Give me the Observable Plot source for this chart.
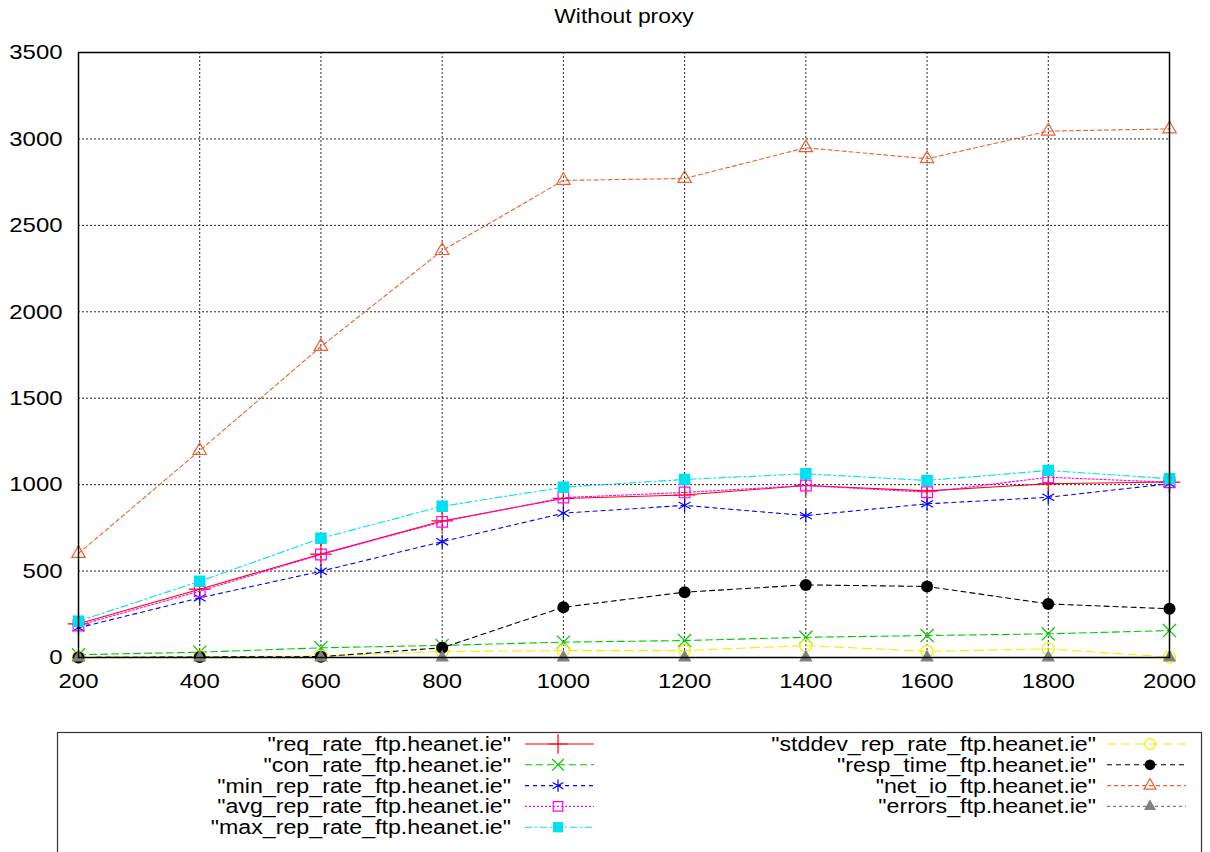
<!DOCTYPE html>
<html>
<head>
<meta charset="utf-8">
<script src="https://cdn.jsdelivr.net/npm/d3@7"></script>
<script src="https://cdn.jsdelivr.net/npm/@observablehq/plot@0.6"></script>
<style>
  html, body { margin: 0; padding: 0; background: #fff; }
  #chart { position: relative; width: 1210px; height: 852px; overflow: hidden; }
  #chart svg { display: block; }
</style>
</head>
<body>
<div id="chart"></div>
<script>
// ---- data ----
const xs = [200, 400, 600, 800, 1000, 1200, 1400, 1600, 1800, 2000];
const xTicks = [200, 400, 600, 800, 1000, 1200, 1400, 1600, 1800, 2000];
const yTicks = [0, 500, 1000, 1500, 2000, 2500, 3000, 3500];
const title = "Without proxy";

const seriesNames = [
  "\"req_rate_ftp.heanet.ie\"",
  "\"con_rate_ftp.heanet.ie\"",
  "\"min_rep_rate_ftp.heanet.ie\"",
  "\"avg_rep_rate_ftp.heanet.ie\"",
  "\"max_rep_rate_ftp.heanet.ie\"",
  "\"stddev_rep_rate_ftp.heanet.ie\"",
  "\"resp_time_ftp.heanet.ie\"",
  "\"net_io_ftp.heanet.ie\"",
  "\"errors_ftp.heanet.ie\""
];
const reqRate    = [195, 395, 598, 790, 920, 940, 995, 964, 1005, 1015];
const conRate    = [16, 31, 56, 70, 89, 98, 117, 127, 137, 156];
const minRepRate = [172, 345, 499, 670, 835, 880, 821, 889, 927, 1005];
const avgRepRate = [185, 384, 596, 785, 925, 955, 995, 956, 1043, 1014];
const maxRepRate = [210, 441, 690, 875, 985, 1030, 1063, 1024, 1082, 1034];
const stddevRepRate = [3, 5, 8, 35, 40, 40, 69, 36, 50, 2];
const respTime   = [0, 3, 5, 56, 291, 378, 420, 411, 310, 282];
const netIo      = [602, 1197, 1799, 2354, 2760, 2771, 2949, 2885, 3045, 3058];
const errors     = [0, 0, 0, 0, 0, 0, 0, 0, 0, 0];
const seriesValues = [reqRate, conRate, minRepRate, avgRepRate, maxRepRate, stddevRepRate, respTime, netIo, errors];

// ---- styles (separate from data) ----
const styles = [
  {color: "#ff0000", dash: null,      symbol: "plus",     filled: false, r: 7},
  {color: "#00c800", dash: "7,4",     symbol: "times",    filled: false, r: 6},
  {color: "#0000ff", dash: "4,4",     symbol: "asterisk", filled: false, r: 6.5},
  {color: "#ff00ff", dash: "2,2",     symbol: "square",   filled: false, r: 6},
  {color: "#00e0f0", dash: "7,3,2,3", symbol: "square",   filled: true,  r: 6.5},
  {color: "#f0f000", dash: "9,5",     symbol: "circle",   filled: false, r: 6},
  {color: "#000000", dash: "5,4",     symbol: "circle",   filled: true,  r: 6},
  {color: "#f06030", dash: "4,3",     symbol: "triangle", filled: false, r: 5},
  {color: "#808080", dash: "3,3",     symbol: "triangle", filled: true,  r: 5}
];

const data = seriesNames.flatMap((name, i) =>
  xs.map((x, j) => ({series: name, idx: i, x, y: seriesValues[i][j]})));

const FONT = "'Liberation Sans', Arial, Helvetica, sans-serif";
const STRETCH = 1.14;

const seriesMarks = seriesNames.flatMap((name, i) => {
  const s = styles[i];
  const d = data.filter(r => r.idx === i);
  return [
    Plot.line(d, {x: "x", y: "y", stroke: s.color, strokeWidth: 1.1,
      strokeDasharray: s.dash || undefined}),
    Plot.dot(d, {x: "x", y: "y", symbol: () => s.symbol, r: s.r,
      fill: s.filled ? s.color : "none",
      stroke: s.color, strokeWidth: s.filled ? 0 : 1.2})
  ];
});

const plot = Plot.plot({
  width: 1210,
  height: 700,
  marginTop: 52,
  marginBottom: 43,
  marginLeft: 78,
  marginRight: 41,
  style: {fontFamily: FONT, fontSize: "21px", color: "#000", background: "#fff", overflow: "visible"},
  x: {type: "linear", domain: [200, 2000]},
  y: {type: "linear", domain: [0, 3500]},
  symbol: {type: "identity"},
  marks: [
    Plot.gridX(xTicks, {stroke: "#000", strokeOpacity: 0.85, strokeWidth: 1, strokeDasharray: "2,2"}),
    Plot.gridY(yTicks, {stroke: "#000", strokeOpacity: 0.85, strokeWidth: 1, strokeDasharray: "2,2"}),
    Plot.axisX(xTicks, {tickSize: 0, tickPadding: 16, label: null, fontSize: 21, tickFormat: d => String(d)}),
    Plot.axisY(yTicks, {tickSize: 0, tickPadding: 16, label: null, fontSize: 21, tickFormat: d => String(d)}),
    ...seriesMarks,
    Plot.frame({stroke: "#000", strokeWidth: 1.5}),
    Plot.text([title], {frameAnchor: "top", dy: -44, fontSize: 20, fill: "#000"})
  ]
});

document.getElementById("chart").appendChild(plot);

// ---- legend (below the plot) ----
const leg = d3.create("svg").attr("width", 1210).attr("height", 152)
  .style("font-family", FONT).style("font-size", "20px");
leg.append("rect").attr("x", 57.5).attr("y", 32.5).attr("width", 1144).attr("height", 160)
  .attr("fill", "none").attr("stroke", "#333").attr("stroke-width", 1.2);

const symbolMap = {plus: d3.symbolPlus, times: d3.symbolTimes, asterisk: d3.symbolAsterisk,
  square: d3.symbolSquare, circle: d3.symbolCircle, triangle: d3.symbolTriangle};
const cols = [
  {textX: 511, lineX1: 525, lineX2: 594, markX: 558},
  {textX: 1096, lineX1: 1107, lineX2: 1186, markX: 1150}
];
seriesNames.forEach((name, i) => {
  const col = i < 5 ? cols[0] : cols[1];
  const row = i < 5 ? i : i - 5;
  const y = 44 + row * 20.8;
  const s = styles[i];
  const g = leg.append("g");
  g.append("text").attr("text-anchor", "end").attr("dy", "0.35em")
    .attr("x", col.textX).attr("y", y).attr("data-stretch", 1.16).text(name);
  g.append("line").attr("x1", col.lineX1).attr("x2", col.lineX2).attr("y1", y).attr("y2", y)
    .attr("stroke", s.color).attr("stroke-width", 1.1)
    .attr("stroke-dasharray", s.dash);
  g.append("path").attr("transform", `translate(${col.markX},${y})`)
    .attr("d", d3.symbol(symbolMap[s.symbol], s.r * s.r * Math.PI * 0.8)())
    .attr("fill", s.filled ? s.color : "#fff").attr("fill-opacity", s.filled ? 1 : 0)
    .attr("stroke", s.color).attr("stroke-width", s.filled ? 0 : 1.2);
});
document.getElementById("chart").appendChild(leg.node());

// horizontally stretch glyphs to match the reference proportions (positions untouched)
document.querySelectorAll("#chart text").forEach(t => {
  const len = t.getComputedTextLength();
  const k = +(t.getAttribute("data-stretch") || STRETCH);
  if (len > 0) {
    t.setAttribute("textLength", (len * k).toFixed(2));
    t.setAttribute("lengthAdjust", "spacingAndGlyphs");
  }
});
</script>
</body>
</html>
